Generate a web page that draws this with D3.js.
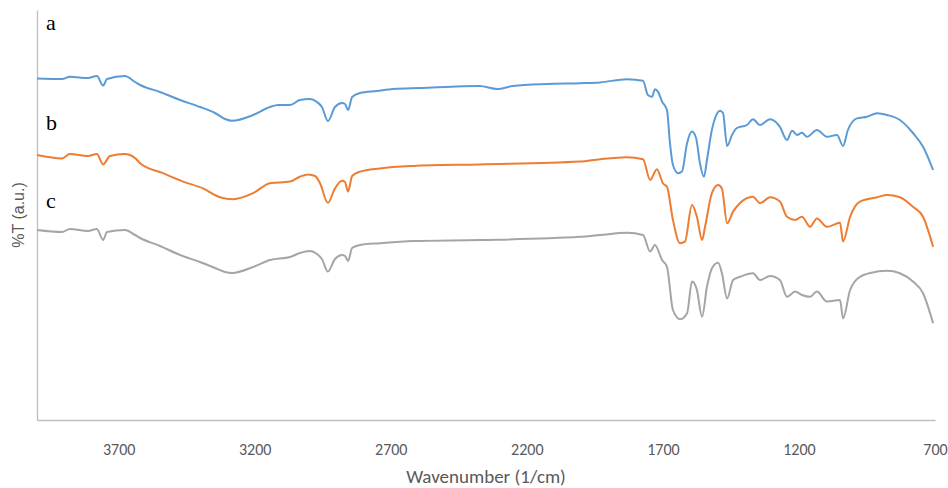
<!DOCTYPE html>
<html>
<head>
<meta charset="utf-8">
<script src="https://cdn.jsdelivr.net/npm/d3@7"></script>
<style>
  body { margin: 0; background: #fff; }
  .tick text { font-family: Carlito, Lato, "Open Sans", sans-serif; }
</style>
</head>
<body>
<svg id="ftir" width="948" height="488"></svg>
<script>
// wavenumber (1/cm) and %T (arbitrary, offset per sample)
const wnA = [4000,3908,3879,3813,3780,3757,3743,3677,3640,3621,3548,3474,3401,3346,3309,3283,3206,3144,3114,3070,3034,2997,2971,2953,2931,2905,2879,2868,2857,2842,2813,2751,2692,2593,2372,2310,2251,2126,2005,1931,1832,1773,1755,1740,1729,1718,1703,1685,1674,1663,1644,1630,1611,1593,1578,1564,1549,1538,1520,1508,1490,1479,1464,1446,1428,1391,1369,1343,1306,1270,1244,1225,1207,1189,1170,1134,1097,1060,1038,1020,987,950,913,876,829,781,744,707];
const tA = [85.4,85.25,85.8,85.5,86,83.6,85.25,86,84.5,83.75,82,80,78.25,76.75,75.25,74.8,76.25,78.25,78.75,78.75,80,80.25,79.5,78.25,74.75,78.25,79.25,79,77.5,80.75,81.75,82.25,82.75,83,83.5,82.75,83.5,84,84.2,84.4,85.2,84.8,81.25,80.8,82.7,82.1,79.6,77.5,69.25,63.75,61.7,62.1,69.25,72.1,70.5,64.25,60.8,65,72.5,75.5,77.3,76.75,68.5,71.25,73,73.75,75.2,73.75,75.2,73.3,70,72.3,71.25,71.8,70.8,72.5,70.8,71.25,68.5,72.5,75.4,75.8,76.7,76.25,75,71.75,68.3,62.5];

const wnB = [4000,3908,3879,3813,3780,3757,3732,3677,3640,3621,3537,3463,3390,3328,3280,3206,3144,3070,3034,3004,2978,2960,2931,2905,2879,2868,2857,2842,2813,2740,2618,2372,2005,1931,1832,1773,1747,1722,1700,1685,1663,1637,1619,1593,1575,1556,1545,1520,1497,1483,1464,1442,1417,1369,1343,1306,1270,1244,1214,1189,1159,1134,1097,1049,1038,1012,976,913,876,829,781,744,707];
const tB = [66.25,65.4,66.5,66,66.5,63.9,66,66.5,65.5,64.2,61.7,59.6,57.9,55.7,55.2,56.7,59.2,59.6,60.8,61.4,61,59.2,54.3,57.9,59.8,59.5,57.1,61,62.1,62.9,63.5,63.9,64.6,65.2,65.7,65.2,60,62.7,59.2,58.3,50,44.2,44.6,53.75,50.8,45,48.3,56.7,58.75,57.9,49.2,52.1,54.2,55.8,54.2,55.7,54.6,50.8,50,50.8,48.3,50.4,48.3,49.3,44.6,50.8,54.6,55.7,56.25,55.7,53.3,50.8,43.3];

const wnC = [4000,3908,3879,3813,3780,3757,3743,3677,3640,3621,3548,3474,3401,3346,3309,3283,3206,3144,3070,3034,2997,2971,2953,2931,2905,2879,2868,2857,2842,2813,2740,2618,2372,2005,1931,1832,1773,1747,1729,1703,1685,1663,1637,1611,1593,1575,1556,1538,1520,1497,1483,1464,1442,1417,1369,1343,1306,1270,1244,1214,1189,1159,1134,1097,1049,1038,1012,976,913,876,829,781,744,707];
const tC = [47.5,47,47.75,47.25,47.75,45,47,47.5,46.25,45.5,43.5,41.25,39.5,38,37,36.75,38.25,40,40.75,41.75,42.25,41.5,40.25,37.1,40.25,41.25,41,39.75,43,43.75,44.2,44.75,45,45.8,46.25,46.8,46.25,42.1,43.75,40,38.3,27.5,25.2,26.7,34.6,32.5,25.8,33.3,37.9,39.3,36.7,30.4,35,35.8,36.7,35,36,35,30.8,32.1,31.25,30.8,32.1,29.6,30,25.4,32.5,35.8,37.1,37.3,36.7,34.6,31.7,24.2];

const xTicks = [3700, 3200, 2700, 2200, 1700, 1200, 700];
const sampleLabels = ["a", "b", "c"];
const colors = ["#5b9bd5", "#ed7d31", "#a5a5a5"];

const series = [
  wnA.map((w, i) => ({wn: w, t: tA[i]})),
  wnB.map((w, i) => ({wn: w, t: tB[i]})),
  wnC.map((w, i) => ({wn: w, t: tC[i]}))
];

const svg = d3.select("#ftir");
const margins = {top: 10, right: 13, bottom: 68, left: 37};
const chartWidth = svg.attr("width") - margins.left - margins.right;
const chartHeight = svg.attr("height") - margins.top - margins.bottom;

// reversed wavenumber axis
const scaleWn = d3.scaleLinear().domain([4000, 700]).range([0, chartWidth]);
const scaleT = d3.scaleLinear().domain([0, 102.5]).range([chartHeight, 0]);

const chartArea = svg.append("g")
  .attr("transform", `translate(${margins.left},${margins.top})`);

// x axis: line + labels only
const bottomAxis = d3.axisBottom(scaleWn).tickValues(xTicks).tickFormat(d3.format("d"))
  .tickSize(0).tickPadding(24);
const xg = chartArea.append("g")
  .attr("transform", `translate(0,${chartHeight})`)
  .call(bottomAxis);
xg.select(".domain").attr("stroke", "#bfbfbf").attr("stroke-width", 1.3);
xg.selectAll(".tick text").attr("fill", "#595959").style("font-size", "16px");

const leftAxis = d3.axisLeft(scaleT).tickValues([]).tickSizeOuter(0);
const yg = chartArea.append("g").call(leftAxis);
yg.select(".domain").attr("stroke", "#bfbfbf").attr("stroke-width", 1.3);

// spectra
const line = d3.line()
  .x(d => scaleWn(d.wn))
  .y(d => scaleT(d.t))
  .curve(d3.curveMonotoneX);

chartArea.selectAll("path.spectrum")
  .data(series)
  .join("path")
  .attr("class", "spectrum")
  .attr("fill", "none")
  .attr("stroke", (d, i) => colors[i])
  .attr("stroke-width", 2)
  .attr("stroke-linejoin", "round")
  .attr("d", line);

// sample letters
const labelY = [30, 130, 208];
svg.selectAll("text.sample")
  .data(sampleLabels)
  .join("text")
  .attr("class", "sample")
  .attr("x", 46)
  .attr("y", (d, i) => labelY[i])
  .attr("font-family", "'Liberation Serif', 'Times New Roman', serif")
  .attr("font-size", 22)
  .attr("fill", "#000")
  .text(d => d);

// axis titles
svg.append("text")
  .attr("x", margins.left + chartWidth / 2)
  .attr("y", 483)
  .attr("text-anchor", "middle")
  .attr("font-family", "Carlito, Lato, 'Open Sans', sans-serif")
  .attr("font-size", 19)
  .attr("fill", "#595959")
  .text("Wavenumber (1/cm)");

svg.append("text")
  .attr("transform", "translate(24,215) rotate(-90)")
  .attr("text-anchor", "middle")
  .attr("font-family", "'Liberation Sans', Arial, sans-serif")
  .attr("font-size", 16)
  .attr("fill", "#595959")
  .text("%T (a.u.)");
</script>
</body>
</html>
